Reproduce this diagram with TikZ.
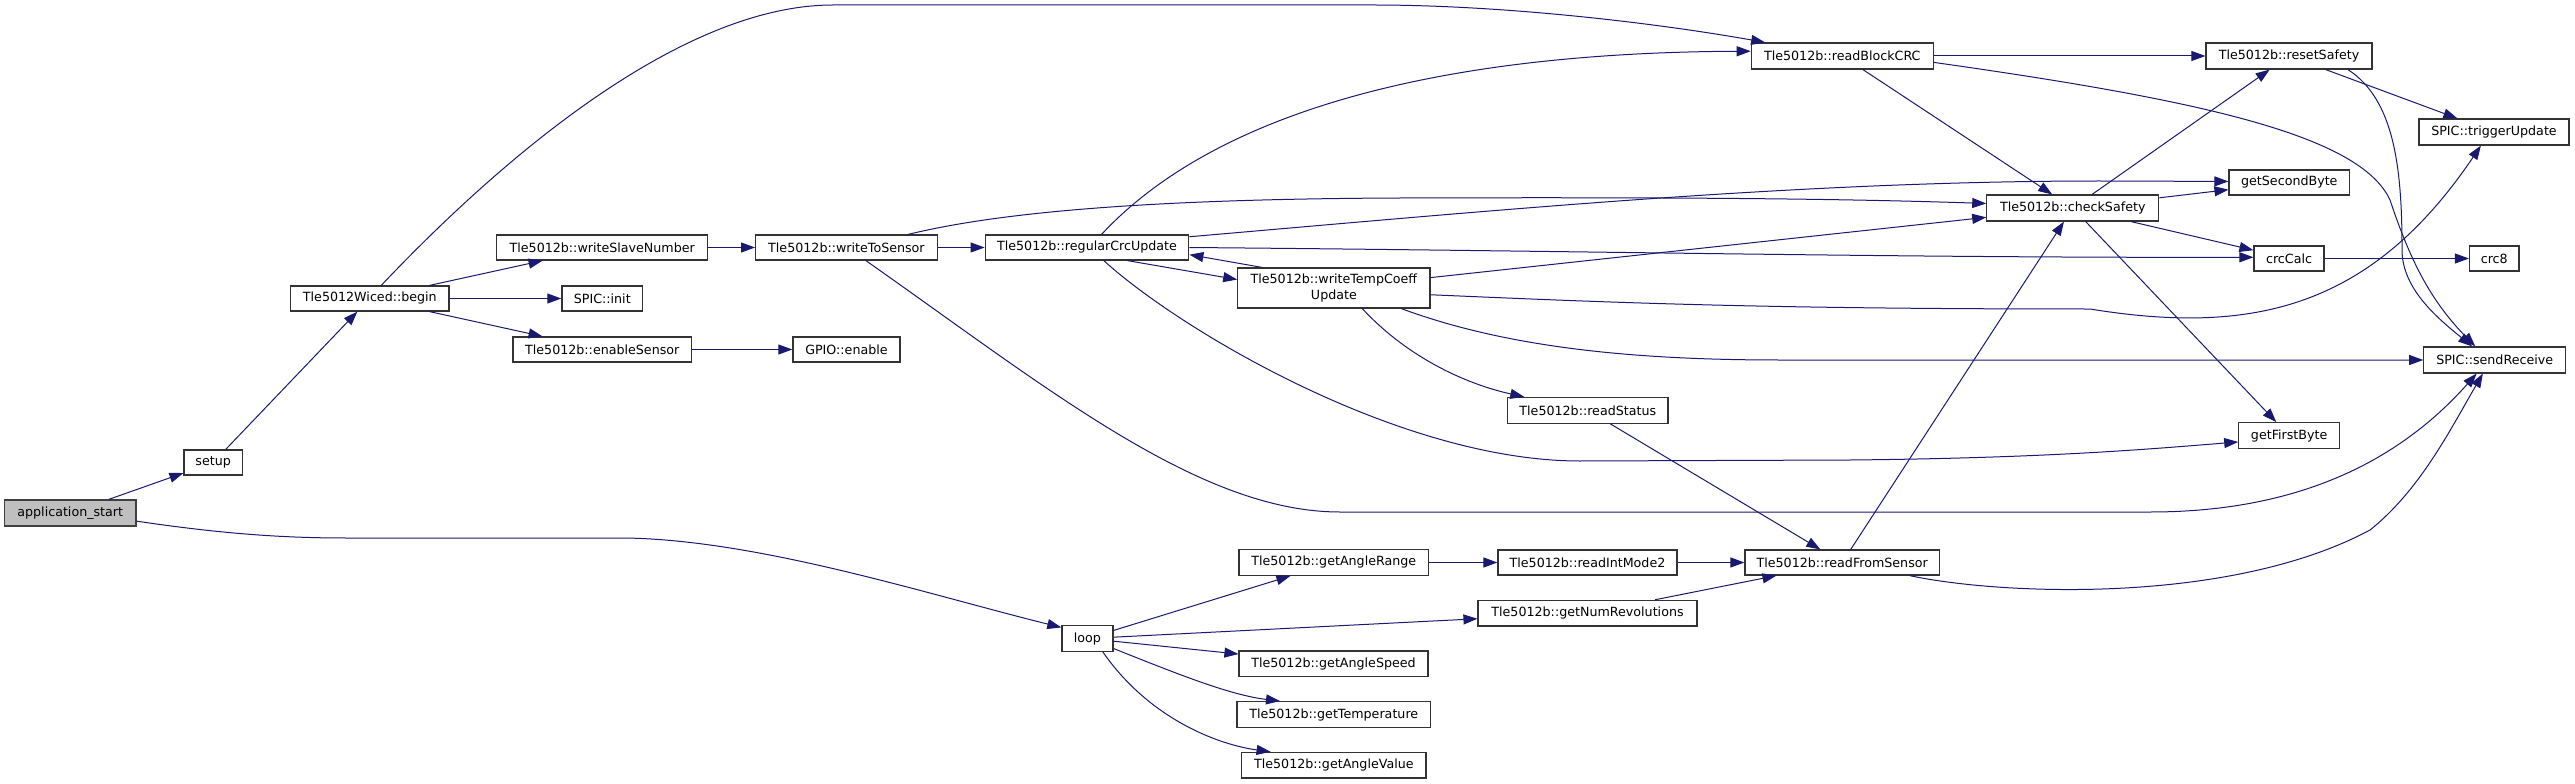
\documentclass[tikz,border=0pt]{standalone}
\usepackage{fontspec}
\setmainfont{DejaVu Sans}
\usetikzlibrary{arrows.meta}
\definecolor{mblue}{HTML}{191970}
\definecolor{rootfill}{HTML}{BFBFBF}
\newcommand\dnode[7][]{\node[box,#1,minimum width={#5*0.75pt},minimum height={#6*0.75pt}] (#2) at (#3,#4) {#7};}
\begin{document}
\begin{tikzpicture}[x=0.75pt,y=-0.75pt,
  box/.style={draw=black!80,fill=white,line width=0.9pt,inner sep=0pt,align=center,
    font=\fontsize{9.5}{11.5}\selectfont},
  root/.style={fill=rootfill,draw=black!75},
  e/.style={draw=mblue,line width=0.75pt,-{Triangle[length=10.5pt,width=7.5pt]}}]
\useasboundingbox (0,0) rectangle (2575,784);
% nodes
\dnode[root]{app}{70.25}{513}{131.5}{26}{application\_start}
\dnode{setup}{213.2}{462.5}{58.4}{25}{setup}
\dnode{begin}{369.85}{298.5}{158.3}{25}{Tle5012Wiced::begin}
\dnode{wsn}{602.25}{247.5}{210.9}{25}{Tle5012b::writeSlaveNumber}
\dnode{init}{602.3}{298.5}{80.8}{25}{SPIC::init}
\dnode{ens}{602.25}{349.5}{178.5}{25}{Tle5012b::enableSensor}
\dnode{gpio}{846.45}{349.5}{107.1}{25}{GPIO::enable}
\dnode{wts}{846.45}{247.5}{181.7}{25}{Tle5012b::writeToSensor}
\dnode{rcu}{1087}{247.5}{203.6}{25}{Tle5012b::regularCrcUpdate}
\dnode{wtc}{1333.9}{288}{192.2}{40}{Tle5012b::writeTempCoeff\\Update}
\dnode{rs}{1587.8}{410.4}{160.2}{25.8}{Tle5012b::readStatus}
\dnode{rbc}{1842.3}{56}{182}{26}{Tle5012b::readBlockCRC}
\dnode{rsf}{2289}{56}{166}{26}{Tle5012b::resetSafety}
\dnode{tu}{2494}{132}{150}{26}{SPIC::triggerUpdate}
\dnode{gsb}{2289.3}{182.5}{120.6}{25}{getSecondByte}
\dnode{cs}{2072.75}{208}{171.9}{26}{Tle5012b::checkSafety}
\dnode{cc}{2289}{258.5}{70}{25}{crcCalc}
\dnode{crc8}{2494.25}{258.5}{49.5}{25}{crc8}
\dnode{sr}{2494.65}{360}{141.7}{26}{SPIC::sendReceive}
\dnode{gfb}{2289.15}{435.7}{100.7}{26}{getFirstByte}
\dnode{gar}{1333.8}{562.5}{189.6}{25.6}{Tle5012b::getAngleRange}
\dnode{rim}{1587.5}{562.5}{179}{25}{Tle5012b::readIntMode2}
\dnode{rfs}{1842.2}{562.5}{194.4}{25}{Tle5012b::readFromSensor}
\dnode{gnr}{1587.5}{613.2}{219}{25.7}{Tle5012b::getNumRevolutions}
\dnode{loop}{1087.4}{638.5}{51}{25.6}{loop}
\dnode{gas}{1333.5}{663.8}{189}{25.7}{Tle5012b::getAngleSpeed}
\dnode{gt}{1333.75}{714.5}{193.5}{25.6}{Tle5012b::getTemperature}
\dnode{gav}{1333.85}{765.2}{184.3}{25.7}{Tle5012b::getAngleValue}
% edges
\draw[e] (app) -- (setup);
\draw[e] (app.-7.8) .. controls (230,535) and (290,538) .. (348,538) -- (625,538) .. controls (760,540) and (930,595) .. (loop.157.5);
\draw[e] (setup) -- (begin);
\draw[e] (begin.49.3) .. controls (500,160) and (680,5) .. (833,5) -- (1373,5) .. controls (1500,5) and (1650,22) .. (rbc.170.8);
\draw[e] (begin) -- (wsn);
\draw[e] (begin) -- (init);
\draw[e] (begin) -- (ens);
\draw[e] (wsn) -- (wts);
\draw[e] (ens) -- (gpio);
\draw[e] (wts) -- (rcu);
\draw[e] (wts.12.25) .. controls (1000,212) and (1150,199) .. (1400,198) .. controls (1700,197) and (1850,199) .. (cs.177.3);
\draw[e] (wts.-34.3) .. controls (1050,390) and (1200,512) .. (1340,512) -- (2150,512) .. controls (2300,512) and (2400,460) .. (sr.-143.6);
\draw[e] (rcu.42.8) .. controls (1180,150) and (1350,53) .. (rbc.177.9);
\draw[e] (rcu.6.4) .. controls (1500,210) and (1800,181) .. (2100,181) -- (gsb.179.5);
\draw[e] (rcu.-0.45) .. controls (1600,251) and (1900,258) .. (cc.178.7);
\draw[e] (rcu.-38) .. controls (1180,330) and (1400,461) .. (1580,461) -- (1850,460) .. controls (2050,458) and (2150,449) .. (gfb.-173.2);
\draw[e] (rcu.-18.9) -- (wtc.175.2);
\draw[e] (wtc.164.7) -- (rcu.-4.9);
\draw[e] (wtc) -- (cs);
\draw[e] (wtc.-4) .. controls (1600,302) and (1750,309) .. (2090,309) .. controls (2250,335) and (2370,310) .. (tu.-134.3);
\draw[e] (wtc.-17.7) .. controls (1500,345) and (1620,360) .. (1780,360) -- (sr.180);
\draw[e] (wtc.-36.4) .. controls (1410,360) and (1470,385) .. (rs.168.3);
\draw[e] (rs) -- (rfs);
\draw[e] (rbc) -- (rsf);
\draw[e] (rbc) -- (cs);
\draw[e] (rbc.-4) .. controls (2200,100) and (2360,135) .. (2390,200) .. controls (2410,260) and (2430,300) .. (sr.145.1);
\draw[e] (rsf) -- (tu);
\draw[e] (rsf.-13.2) .. controls (2395,100) and (2402,170) .. (2402,250) .. controls (2402,290) and (2440,320) .. (sr.149);
\draw[e] (cs) -- (rsf);
\draw[e] (cs) -- (gsb);
\draw[e] (cs) -- (cc);
\draw[e] (cs) -- (gfb);
\draw[e] (cc) -- (crc8);
\draw[e] (rfs) -- (cs);
\draw[e] (rfs.-11.9) .. controls (2000,595) and (2230,605) .. (2370,530) .. controls (2420,490) and (2450,430) .. (sr.-131.9);
\draw[e] (gar) -- (rim);
\draw[e] (rim) -- (rfs);
\draw[e] (gnr) -- (rfs);
\draw[e] (loop) -- (gar);
\draw[e] (loop) -- (gnr);
\draw[e] (loop) -- (gas);
\draw[e] (loop.-21) .. controls (1180,675) and (1230,695) .. (gt.166.5);
\draw[e] (loop.-41.2) .. controls (1150,720) and (1220,745) .. (gav.168.4);
\end{tikzpicture}
\end{document}
